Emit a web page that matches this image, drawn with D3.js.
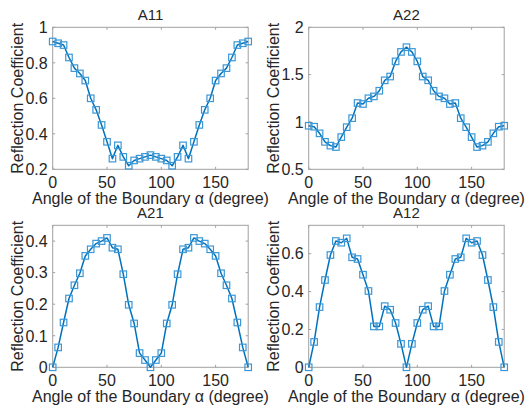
<!DOCTYPE html>
<html>
<head>
<meta charset="utf-8">
<script src="https://cdn.jsdelivr.net/npm/d3@7"></script>
<style>
  html, body { margin: 0; padding: 0; background: #fff; }
  svg { display: block; }
  text { font-family: "Liberation Sans", Arial, Helvetica, sans-serif; fill: #262626; }
</style>
</head>
<body>
<svg id="fig" width="530" height="417"></svg>
<script>
// Boundary angle samples, 0..180 degrees in 5-degree steps
const angles = [0,5,10,15,20,25,30,35,40,45,50,55,60,65,70,75,80,85,90,
                95,100,105,110,115,120,125,130,135,140,145,150,155,160,165,170,175,180];

// Reflection coefficients per matrix element
const a11 = [0.92,0.91,0.90,0.83,0.77,0.74,0.70,0.60,0.535,0.45,0.355,0.26,0.335,0.27,0.22,0.25,0.26,0.27,0.28,
             0.27,0.26,0.25,0.22,0.27,0.335,0.26,0.355,0.45,0.535,0.60,0.70,0.74,0.77,0.83,0.90,0.91,0.92];
const a22 = [0.96,0.95,0.88,0.79,0.75,0.735,0.84,0.945,1.04,1.20,1.19,1.25,1.27,1.33,1.44,1.48,1.64,1.74,1.79,
             1.74,1.64,1.48,1.44,1.33,1.27,1.25,1.19,1.20,1.04,0.945,0.84,0.735,0.75,0.79,0.88,0.95,0.96];
const a21 = [0,0.063,0.142,0.218,0.26,0.298,0.353,0.374,0.392,0.40,0.41,0.379,0.374,0.295,0.198,0.139,0.045,0.023,0,
             0.023,0.045,0.139,0.198,0.295,0.374,0.379,0.41,0.40,0.392,0.374,0.353,0.298,0.26,0.218,0.142,0.063,0];
const a12 = [0,0.134,0.318,0.461,0.593,0.667,0.658,0.681,0.581,0.572,0.489,0.403,0.216,0.216,0.323,0.304,0.234,0.124,0,
             0.124,0.234,0.304,0.323,0.216,0.216,0.403,0.489,0.572,0.581,0.681,0.658,0.667,0.593,0.461,0.318,0.134,0];

// Axis limits and tick values
const xTicks = [0, 50, 100, 150];
const a11Ticks = [0.2, 0.4, 0.6, 0.8, 1];
const a22Ticks = [0.5, 1, 1.5, 2];
const a21Ticks = [0, 0.1, 0.2, 0.3, 0.4];
const a12Ticks = [0, 0.2, 0.4, 0.6];

const titles = ["A11", "A22", "A21", "A12"];
const xLabel = "Angle of the Boundary \u03b1 (degree)";
const yLabel = "Reflection Coefficient";

const panels = [
  { title: titles[0], values: a11, ydom: [0.2, 1],  yticks: a11Ticks, col: 0, row: 0 },
  { title: titles[1], values: a22, ydom: [0.5, 2],  yticks: a22Ticks, col: 1, row: 0 },
  { title: titles[2], values: a21, ydom: [0, 0.45], yticks: a21Ticks, col: 0, row: 1 },
  { title: titles[3], values: a12, ydom: [0, 0.75], yticks: a12Ticks, col: 1, row: 1 }
];

const svg = d3.select("#fig");
const colLeft = [52.7, 308.7];
const rowTop = [27.3, 225.3];
const W = 195.5, H = 142;
const lineColor = "#0072BD";
const markerColor = "#3c97d6";
const boxColor = "#a0a0a0";
const tickLen = 2.5;
const fmt = v => String(+v.toFixed(3));

panels.forEach(p => {
  const g = svg.append("g")
    .attr("transform", `translate(${colLeft[p.col]},${rowTop[p.row]})`);

  const x = d3.scaleLinear().domain([0, 180]).range([0, W]);
  const y = d3.scaleLinear().domain(p.ydom).range([H, 0]);

  // Plot box
  g.append("rect")
    .attr("x", 0).attr("y", 0).attr("width", W).attr("height", H)
    .attr("fill", "none").attr("stroke", boxColor).attr("stroke-width", 1);

  // Inward ticks on all four sides
  const tk = g.append("g").attr("stroke", boxColor).attr("stroke-width", 1);
  xTicks.forEach(t => {
    tk.append("line").attr("x1", x(t)).attr("x2", x(t)).attr("y1", H).attr("y2", H - tickLen);
    tk.append("line").attr("x1", x(t)).attr("x2", x(t)).attr("y1", 0).attr("y2", tickLen);
  });
  p.yticks.forEach(t => {
    tk.append("line").attr("x1", 0).attr("x2", tickLen).attr("y1", y(t)).attr("y2", y(t));
    tk.append("line").attr("x1", W).attr("x2", W - tickLen).attr("y1", y(t)).attr("y2", y(t));
  });

  // Tick labels
  g.selectAll(".xt").data(xTicks).join("text")
    .attr("x", d => x(d)).attr("y", H + 19)
    .attr("text-anchor", "middle").attr("font-size", 16)
    .text(d => fmt(d));
  g.selectAll(".yt").data(p.yticks).join("text")
    .attr("x", -5).attr("y", d => y(d)).attr("dy", "0.36em")
    .attr("text-anchor", "end").attr("font-size", 16)
    .text(d => fmt(d));

  // Axis labels and title
  g.append("text")
    .attr("x", W / 2).attr("y", H + 34.5)
    .attr("text-anchor", "middle").attr("font-size", 16)
    .text(xLabel);
  g.append("text")
    .attr("transform", `translate(-29.5,${H / 2}) rotate(-90)`)
    .attr("text-anchor", "middle").attr("font-size", 16)
    .text(yLabel);
  g.append("text")
    .attr("x", W / 2).attr("y", -7.5)
    .attr("text-anchor", "middle").attr("font-size", 15)
    .text(p.title);

  const pts = angles.map((a, i) => [a, p.values[i]]);

  // Data line
  g.append("path")
    .datum(pts)
    .attr("fill", "none").attr("stroke", lineColor).attr("stroke-width", 1.5)
    .attr("stroke-linejoin", "round")
    .attr("d", d3.line().x(d => x(d[0])).y(d => y(d[1])));

  // Square markers
  const s = 6.5;
  g.selectAll(".mk").data(pts).join("rect")
    .attr("x", d => x(d[0]) - s / 2).attr("y", d => y(d[1]) - s / 2)
    .attr("width", s).attr("height", s)
    .attr("fill", "none").attr("stroke", markerColor).attr("stroke-width", 1.2);
});
</script>
</body>
</html>
